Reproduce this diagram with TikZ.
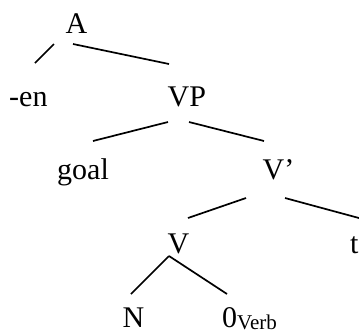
\documentclass[tikz,border=0pt]{standalone}
\usepackage{fontspec}
\setmainfont{Liberation Serif}
\begin{document}
\begin{tikzpicture}[x=1pt,y=-1pt,
  lbl/.style={inner sep=0pt,anchor=base west,font=\fontsize{30}{30}\selectfont},
  branch/.style={line width=1.7pt}]
\useasboundingbox (0,0) rectangle (359,333);
% labels
\node[lbl] (A) at (65.5,33) {A};
\node[lbl] (en) at (9,106) {-en};
\node[lbl] (VP) at (167.5,106) {VP};
\node[lbl] (goal) at (57,179) {goal};
\node[lbl] (Vbar) at (262.5,179) {V’};
\node[lbl] (V) at (167.5,253) {V};
\node[lbl] (t) at (350,253) {t};
\node[lbl] (N) at (122.5,327) {N};
\node[lbl] (zero) at (222,327) {0\raisebox{-2.5pt}[0pt][0pt]{\fontsize{21}{21}\selectfont Verb}};
% branch end points
\coordinate (A-l) at (54,44);
\coordinate (en-t) at (35,63);
\coordinate (A-r) at (73,44);
\coordinate (VP-t) at (169,64);
\coordinate (VP-l) at (168,122);
\coordinate (goal-t) at (93,141);
\coordinate (VP-r) at (189,122);
\coordinate (Vbar-t) at (264,141);
\coordinate (Vbar-l) at (246,198);
\coordinate (V-t) at (188,218);
\coordinate (Vbar-r) at (285,198);
\coordinate (t-t) at (360,218.3);
\coordinate (V-b) at (169,256);
\coordinate (N-t) at (131,294);
\coordinate (zero-t) at (227,294);
% branches
\draw[branch] (A-l) -- (en-t);
\draw[branch] (A-r) -- (VP-t);
\draw[branch] (VP-l) -- (goal-t);
\draw[branch] (VP-r) -- (Vbar-t);
\draw[branch] (Vbar-l) -- (V-t);
\draw[branch] (Vbar-r) -- (t-t);
\draw[branch] (V-b) -- (N-t);
\draw[branch] (V-b) -- (zero-t);
\end{tikzpicture}
\end{document}
